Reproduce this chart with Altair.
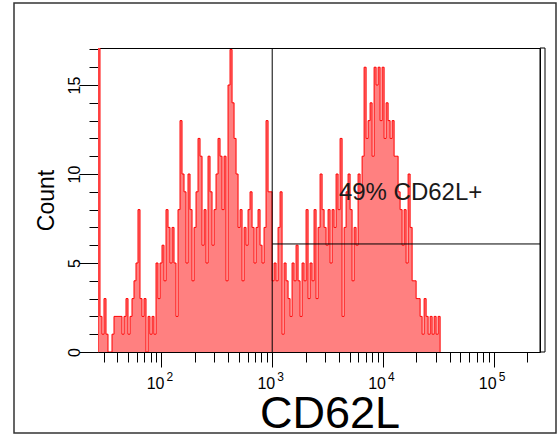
import altair as alt
import pandas as pd

# ---- data (counts per histogram bin, left to right) ----
counts = [30, 2, 1, 3, 1, 0, 0, 1, 2, 2, 2, 2, 1, 2, 3, 1, 2, 3, 4, 5,
          8, 3, 2, 3, 0, 2, 1, 2, 1, 5, 3, 5, 6, 4, 8, 7, 5, 7, 5, 2,
          8, 13, 10, 9, 5, 10, 8, 4, 7, 9, 12, 11, 6, 8, 5, 11, 9, 6, 8, 10,
          12, 11, 8, 11, 4, 15, 17, 14, 12, 10, 7, 8, 4, 7, 6, 8, 9, 7, 5, 7,
          8, 6, 5, 7, 13, 9, 9, 4, 5, 4, 7, 9, 1, 5, 4, 3, 2, 5, 4, 6,
          4, 2, 5, 4, 8, 3, 5, 4, 8, 3, 7, 10, 8, 7, 6, 8, 5, 8, 7, 10,
          8, 12, 2, 7, 9, 10, 8, 4, 7, 6, 10, 9, 11, 16, 12, 13, 14, 11, 16, 15,
          16, 13, 16, 12, 14, 13, 12, 13, 11, 11, 9, 8, 6, 8, 5, 10, 7, 4, 4, 3,
          3, 2, 1, 3, 2, 1, 2, 1, 2, 1, 2]
log_start = 1.4265          # log10 of the first bin's left edge
log_bin = 0.01807           # bin width in decades
x_min, x_max = 26.7, 262144
y_max = 17.08
gate_x = 1000
gate_y = 6.07
gate_label = "49% CD62L+"
gate_label_pos = (4000, 8.55)
x_minor_ticks = [30, 40, 50, 60, 70, 80, 90,
                 200, 300, 400, 500, 600, 700, 800, 900,
                 2000, 3000, 4000, 5000, 6000, 7000, 8000, 9000,
                 20000, 30000, 40000, 50000, 60000, 70000, 80000, 90000,
                 200000]
x_major_ticks = [100, 1000, 10000, 100000]
x_major_exps = ["2", "3", "4", "5"]
y_minor_ticks = [1, 2, 3, 4, 6, 7, 8, 9, 11, 12, 13, 14, 16, 17]
y_major_ticks = [0, 5, 10, 15]

# histogram table: left edge of each bin, plus closing points
rows = [{"i": -1, "x": 10 ** log_start, "c": 0}]
for i, c in enumerate(counts):
    rows.append({"i": i, "x": 10 ** (log_start + i * log_bin), "c": c})
rows.append({"i": len(counts), "x": 10 ** (log_start + len(counts) * log_bin), "c": 0})
hist = pd.DataFrame(rows)

W, H = 442, 304
FONT = "Liberation Sans"

xscale = alt.Scale(type="log", domain=[x_min, x_max], nice=False)
yscale = alt.Scale(domain=[0, y_max], nice=False, zero=True)

x_axis_minor = alt.Axis(values=x_minor_ticks, domain=False, grid=False, title=None, labels=False,
                        tickColor="black", tickWidth=1, tickSize=10, orient="bottom")
x_axis_major = alt.Axis(values=x_major_ticks, domain=False, grid=False, title=None, labels=False,
                        tickColor="black", tickWidth=1, tickSize=15, orient="bottom")
y_axis_minor = alt.Axis(values=y_minor_ticks, domain=False, grid=False, title=None, labels=False,
                        tickColor="black", tickWidth=1, tickSize=9, orient="left")
y_axis_major = alt.Axis(
    values=y_major_ticks, domain=False, grid=False, title="Count", orient="left",
    tickColor="black", tickWidth=1, tickSize=19,
    labelAngle=-90, labelFont=FONT, labelFontSize=16, labelColor="black",
    labelPadding=-3, labelOverlap=False, labelFlush=False,
    titleFont=FONT, titleFontSize=23, titleFontWeight="normal", titleColor="black",
    titlePadding=8,
)

base = alt.Chart(hist)
area = base.mark_area(interpolate="step-after", color="#FF8080", clip=True).encode(
    x=alt.X("x:Q", scale=xscale, axis=x_axis_minor),
    y=alt.Y("c:Q", scale=yscale, axis=y_axis_minor),
)
line = base.mark_line(interpolate="step-after", color="#FF0000", strokeWidth=1, clip=True).encode(
    x=alt.X("x:Q", scale=xscale, axis=x_axis_major),
    y=alt.Y("c:Q", scale=yscale, axis=y_axis_major),
    order="i:Q",
)

gate_v = alt.Chart(pd.DataFrame({"x": [gate_x]})).mark_rule(color="black", strokeWidth=1).encode(
    x=alt.X("x:Q", scale=xscale, axis=None), y=alt.value(0), y2=alt.value(H)
)
gate_h = alt.Chart(pd.DataFrame({"x": [gate_x], "x2": [x_max], "y": [gate_y]})).mark_rule(
    color="black", strokeWidth=1
).encode(x=alt.X("x:Q", scale=xscale, axis=None), x2="x2:Q", y=alt.Y("y:Q", scale=yscale, axis=None))

gate_text = alt.Chart(pd.DataFrame({"x": [gate_label_pos[0]], "y": [gate_label_pos[1]], "t": [gate_label]})).mark_text(
    align="left", baseline="alphabetic", font=FONT, fontSize=24, color="#1a1a1a"
).encode(x=alt.X("x:Q", scale=xscale, axis=None), y=alt.Y("y:Q", scale=yscale, axis=None), text="t:N")

# x tick labels "10" with superscript exponent
lab = pd.DataFrame({"x": x_major_ticks, "base": ["10"] * 4, "e": x_major_exps})
lab_base = alt.Chart(lab).mark_text(
    align="right", baseline="alphabetic", font=FONT, fontSize=16, color="black", dx=3
).encode(x=alt.X("x:Q", scale=xscale, axis=None), y=alt.value(H + 37), text="base:N")
lab_exp = alt.Chart(lab).mark_text(
    align="left", baseline="alphabetic", font=FONT, fontSize=12, color="black", dx=5
).encode(x=alt.X("x:Q", scale=xscale, axis=None), y=alt.value(H + 29), text="e:N")

x_title = alt.Chart(pd.DataFrame({"t": ["CD62L"]})).mark_text(
    align="center", baseline="alphabetic", font=FONT, fontSize=45, color="black"
).encode(text="t:N", x=alt.value(232), y=alt.value(380))

# right double edge of the plot frame
right_edge = alt.Chart(pd.DataFrame({"a": [0]})).mark_rect(
    fill=None, stroke="black", strokeWidth=1
).encode(x=alt.value(W), x2=alt.value(W + 5), y=alt.value(0), y2=alt.value(H))

# outer border of the figure
border = alt.Chart(pd.DataFrame({"a": [0]})).mark_rect(
    fill=None, stroke="#333333", strokeWidth=1.5
).encode(x=alt.value(-84), x2=alt.value(458), y=alt.value(-45), y2=alt.value(385))

chart = alt.layer(area, line, gate_v, gate_h, gate_text, lab_base, lab_exp, x_title, right_edge, border).resolve_axis(
    x="independent", y="independent"
).properties(
    width=W, height=H,
    autosize=alt.AutoSizeParams(type="none"),
    padding={"left": 98, "top": 48, "right": 18, "bottom": 84},
    background="white",
).configure_view(stroke="black", strokeWidth=1)

chart.save("out.html", embed_options={"renderer": "svg", "actions": False})
